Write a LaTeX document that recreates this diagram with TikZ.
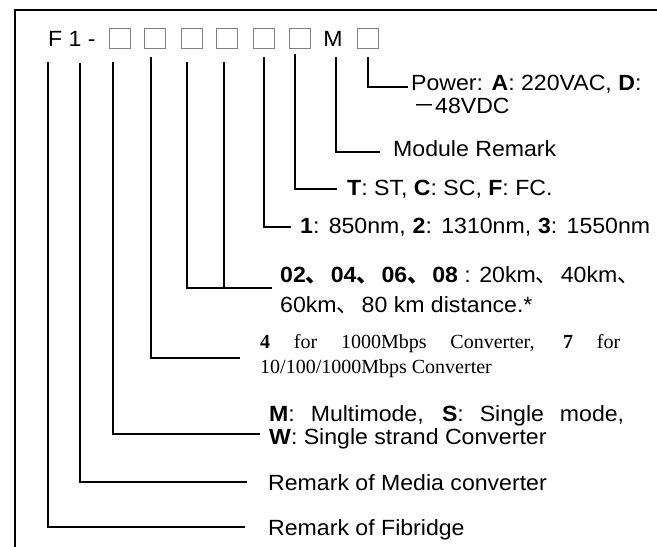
\documentclass[tikz,border=0pt]{standalone}
\usepackage{fontspec}
\setmainfont{Liberation Serif}
\setsansfont[FakeStretch=1.05]{Liberation Sans}
\newfontfamily\cjk{Noto Sans CJK SC}
\newcommand\dun{{\cjk 、}\kern3pt}
\tikzset{
  codebox/.style={draw=gray, minimum width=21pt, minimum height=20pt, inner sep=0pt},
  codechar/.style={inner sep=0pt, font=\sffamily\fontsize{22}{24}\selectfont},
  lead/.style={line width=1.4pt},
  frameline/.style={line width=2pt},
  remark/.style={anchor=base west, inner sep=0pt, align=left, font=\sffamily\fontsize{22}{24}\selectfont},
  serifremark/.style={anchor=base west, inner sep=0pt, align=left, font=\rmfamily\fontsize{20}{24}\selectfont}
}

\begin{document}
\begin{tikzpicture}[x=1pt, y=-1pt]
  \useasboundingbox (0,0) rectangle (657,547);

  % frame (only top and left edges show)
  \coordinate (fbl) at (15,547);
  \coordinate (ftl) at (15,10);
  \coordinate (ftr) at (657,10);
  \draw[frameline] (fbl) -- (ftl) -- (ftr);

  % model code
  \node[codechar, anchor=base west] (prefix) at (48,46) {F 1 -};
  \foreach \i/\x in {1/119.5,2/154.5,3/191.5,4/227,5/263.5,6/299.5,8/367.5} {
    \node[codebox] (b\i) at (\x,38) {};
  }
  \node[codechar, anchor=base] (b7) at (333,46) {M};

  % tops of the leads
  \foreach \n/\x/\y in {fib/48/62,med/80/63,mode/113/62,spd/151/57,dsta/187/62,
                        dstb/224/62,wave/264/57,conn/295/54,mod/336/57,pwr/368/57} {
    \coordinate (t\n) at (\x,\y);
  }

  % ends of the leads
  \coordinate (epwr) at (408,87);
  \coordinate (emod) at (380,152);
  \coordinate (econn) at (337,189);
  \coordinate (ewave) at (291,227);
  \coordinate (edst) at (272,288);
  \coordinate (espd) at (240,358);
  \coordinate (emode) at (260,434);
  \coordinate (emed) at (247,482);
  \coordinate (efib) at (245,527);

  % remarks (base = last line)
  \node[remark] (pwr) at (411,113) {Power: \textbf{A}: 220VAC, \textbf{D}:\\[-1pt]\hspace{2pt}{\cjk －}48VDC};
  \node[remark] (mod) at (393,156) {Module Remark};
  \node[remark] (conn) at (347,195) {\textbf{T}: ST, \textbf{C}: SC, \textbf{F}: FC.};
  \node[remark] (wave) at (300,233) {\makebox[350pt][s]{\textbf{1}: 850nm, \textbf{2}: 1310nm, \textbf{3}: 1550nm}};
  \node[remark] (dst) at (280,312) {\textbf{02\dun 04\dun 06\dun 08} : 20km\dun 40km\dun\\[6pt]60km\dun 80 km distance.*};
  \node[serifremark] (spd) at (260,373) {\makebox[360pt][s]{\textbf{4} for 1000Mbps Converter, \textbf{7} for}\\[1pt]10/100/1000Mbps Converter};
  \node[remark] (mode) at (269,444) {\makebox[355pt][s]{\textbf{M}: Multimode, \textbf{S}: Single mode,}\\[-1pt]\textbf{W}: Single strand Converter};
  \node[remark] (med) at (268,490) {Remark of Media converter};
  \node[remark] (fib) at (268,535) {Remark of Fibridge};

  \draw[lead] (tpwr) |- (epwr);
  \draw[lead] (tmod) |- (emod);
  \draw[lead] (tconn) |- (econn);
  \draw[lead] (twave) |- (ewave);
  \draw[lead] (tdsta) |- (edst);
  \draw[lead] (tdstb) -- (tdstb |- edst);
  \draw[lead] (tspd) |- (espd);
  \draw[lead] (tmode) |- (emode);
  \draw[lead] (tmed) |- (emed);
  \draw[lead] (tfib) |- (efib);
\end{tikzpicture}
\end{document}
